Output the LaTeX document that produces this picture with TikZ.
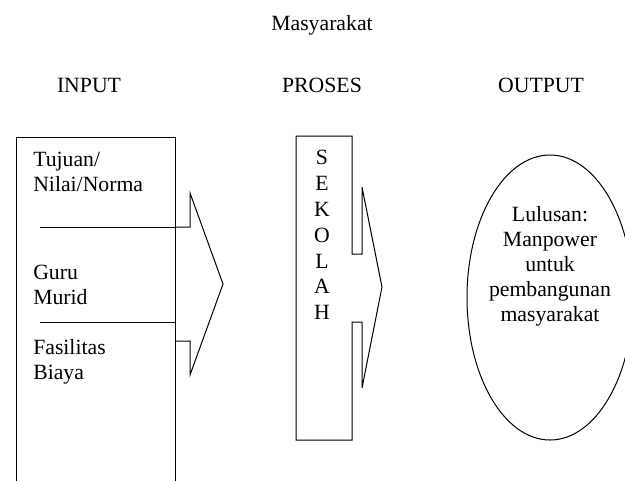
\documentclass[tikz,border=0pt]{standalone}
\usepackage{fontspec}
\setmainfont{Liberation Serif}
\usetikzlibrary{shapes.geometric}
\begin{document}
\begin{tikzpicture}[x=0.75pt,y=-0.75pt,
  txt/.style={inner sep=0pt, font=\fontsize{16.3}{18.75}\selectfont},
  outline/.style={draw=black, line width=0.75pt, line join=miter}]
\useasboundingbox (0,0) rectangle (625,480);
\clip (0,0) rectangle (625,480);

% headings
\node[txt] (masy)   at (322,25) {Masyarakat};
\node[txt] (input)  at (89,85)  {INPUT};
\node[txt] (proses) at (322,85) {PROSES};
\node[txt] (output) at (541,85) {OUTPUT};

% arrow leaving the input column
\draw[outline, fill=white] (175,227) -- (190,227) -- (190,193) -- (223,284)
      -- (190,375) -- (190,341) -- (175,341);

% input column
\coordinate (inBL) at (16,495);
\coordinate (inTL) at (16,137);
\coordinate (inTR) at (175,137);
\coordinate (inBR) at (175,495);
\draw[outline] (inBL) -- (inTL) -- (inTR) -- (inBR);

% dividers inside the input column
\coordinate (d1a) at (40,227);  \coordinate (d1b) at (175,227);
\coordinate (d2a) at (40,322);  \coordinate (d2b) at (175,322);
\draw[outline] (d1a) -- (d1b);
\draw[outline] (d2a) -- (d2b);

\node[txt, align=left, anchor=west] (tujuan) at (33,172)   {Tujuan/\\Nilai/Norma};
\node[txt, align=left, anchor=west] (guru)   at (33,285)   {Guru\\Murid};
\node[txt, align=left, anchor=west] (fasil)  at (33,362)   {Fasilitas\\Biaya};

% school column with its arrow head
\draw[outline] (296,440) -- (296,136) -- (352,136) -- (352,254) -- (362,254)
      -- (362,187) -- (382,287) -- (362,388) -- (362,322) -- (352,322)
      -- (352,440) -- cycle;
\node[txt, align=center, font=\fontsize{16.3}{19.4}\selectfont]
      (sekolah) at (322,235) {S\\E\\K\\O\\L\\A\\H};

% output
\node[draw=black, line width=0.75pt, ellipse, inner sep=0pt,
      minimum width=124.5pt, minimum height=213.75pt] (oval) at (550,297.5) {};
\node[txt, align=center] (lulusan) at (550,266)
      {Lulusan:\\Manpower\\untuk\\pembangunan\\masyarakat};
\end{tikzpicture}
\end{document}
